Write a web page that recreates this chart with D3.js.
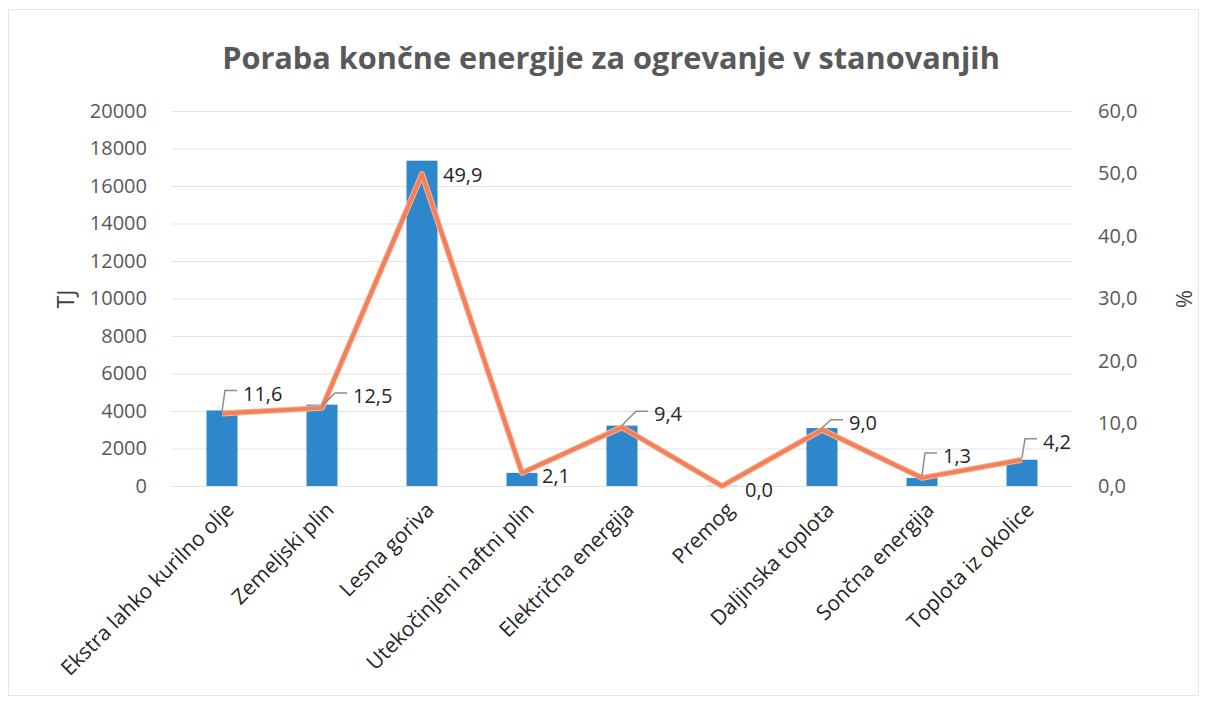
<!DOCTYPE html>
<html><head><meta charset="utf-8">
<script src="https://cdn.jsdelivr.net/npm/d3@7"></script>
<style>body{margin:0;background:#fff;} text{font-family:"Open Sans",sans-serif;}</style>
</head><body>
<svg id="c" width="1205" height="701"></svg>
<script>
const categories = ["Ekstra lahko kurilno olje","Zemeljski plin","Lesna goriva","Utekočinjeni naftni plin","Električna energija","Premog","Daljinska toplota","Sončna energija","Toplota iz okolice"];
const tjValues = [4030, 4340, 17350, 700, 3220, 10, 3090, 430, 1400];
const pctValues = [11.6, 12.5, 49.9, 2.1, 9.4, 0.0, 9.0, 1.3, 4.2];
const leftTicks = [0,2000,4000,6000,8000,10000,12000,14000,16000,18000,20000];
const rightTicks = [0,10,20,30,40,50,60];
const title = "Poraba končne energije za ogrevanje v stanovanjih";

// label layout (dx, dy of text relative to point, leader line flag)
const labelLayout = [[21,-20,1],[31,-12,1],[21,1,0],[20,3,0],[32,-13,1],[23,4,0],[27,-7,1],[21,-22,1],[21,-18,1]];

const svg = d3.select("#c");
const M = {left:172, right:1072, top:111, bottom:486};
svg.append("rect").attr("x",8.5).attr("y",9.5).attr("width",1190).attr("height",686)
  .attr("fill","#fff").attr("stroke","#e4e6ec");

const x = d3.scaleBand().domain(categories).range([M.left,M.right]);
const yL = d3.scaleLinear().domain([0,20000]).range([M.bottom,M.top]);
const yR = d3.scaleLinear().domain([0,60]).range([M.bottom,M.top]);

// grid
svg.append("g").selectAll("line").data(leftTicks).join("line")
  .attr("x1",M.left).attr("x2",M.right).attr("y1",d=>yL(d)+0.5).attr("y2",d=>yL(d)+0.5)
  .attr("stroke","#dfe3ef").attr("stroke-width",1.2);

// left axis
const gl = svg.append("g").attr("transform",`translate(${M.left-22},0)`)
  .call(d3.axisLeft(yL).tickValues(leftTicks).tickSize(0).tickFormat(d3.format("d")));
gl.select(".domain").remove();
gl.selectAll("text").attr("fill","#595959").style("font-size","20px").attr("dx","0");

// right axis
const fmtR = d => d.toFixed(1).replace(".",",");
const gr = svg.append("g").attr("transform",`translate(${M.right+23},0)`)
  .call(d3.axisRight(yR).tickValues(rightTicks).tickSize(0).tickFormat(fmtR));
gr.select(".domain").remove();
gr.selectAll("text").attr("fill","#595959").style("font-size","20px");

// bars
const bw = 31;
svg.append("g").selectAll("rect").data(categories).join("rect")
  .attr("x",(d)=>x(d)+x.bandwidth()/2-bw/2)
  .attr("y",(d,i)=>yL(tjValues[i]))
  .attr("width",bw)
  .attr("height",(d,i)=>yL(0)-yL(tjValues[i]))
  .attr("fill","#2e86cb");

// line
const pts = categories.map((c,i)=>[x(c)+x.bandwidth()/2, yR(pctValues[i])]);
svg.append("path").attr("d",d3.line()(pts)).attr("fill","none")
  .attr("stroke","#f6b98f").attr("stroke-width",6).attr("stroke-linejoin","round");
svg.append("path").attr("d",d3.line()(pts)).attr("fill","none")
  .attr("stroke","#f37f5c").attr("stroke-width",4).attr("stroke-linejoin","round");

// data labels
const lg = svg.append("g");
pts.forEach((p,i)=>{
  const [dx,dy,lead] = labelLayout[i];
  const tx = p[0]+dx, ty = p[1]+dy;
  if(lead){
    lg.append("path").attr("d",`M${p[0]},${p[1]-2}L${tx-18},${ty-3}L${tx-6},${ty-3}`)
      .attr("fill","none").attr("stroke","#8c8c8c").attr("stroke-width",1.5);
  }
  lg.append("text").attr("x",tx).attr("y",ty).attr("dy","0.35em")
    .attr("fill","#262626").style("font-size","20px").text(fmtR(pctValues[i]));
});

// category labels
svg.append("g").selectAll("text").data(categories).join("text")
  .attr("transform",d=>`translate(${x(d)+x.bandwidth()/2+8},${M.bottom+20}) rotate(-45)`)
  .attr("text-anchor","end").attr("dy","0.35em")
  .attr("fill","#262626").style("font-size","21px").text(d=>d);

// axis titles
svg.append("text").attr("transform","translate(66,299) rotate(-90)").attr("text-anchor","middle")
  .attr("dy","0.35em").attr("fill","#404040").style("font-size","23px").text("TJ");
svg.append("text").attr("transform","translate(1184,299) rotate(90)").attr("text-anchor","middle")
  .attr("dy","0.35em").attr("fill","#404040").style("font-size","22px").text("%");

// title
const t = svg.append("text").attr("x",611).attr("y",58).attr("text-anchor","middle").attr("dy","0.35em")
  .attr("fill","#595959").style("font-size","28px").style("font-weight","bold").text(title);
const w = t.node().getComputedTextLength();
t.style("font-size",(28*778/w).toFixed(1)+"px");
</script>
</body></html>
